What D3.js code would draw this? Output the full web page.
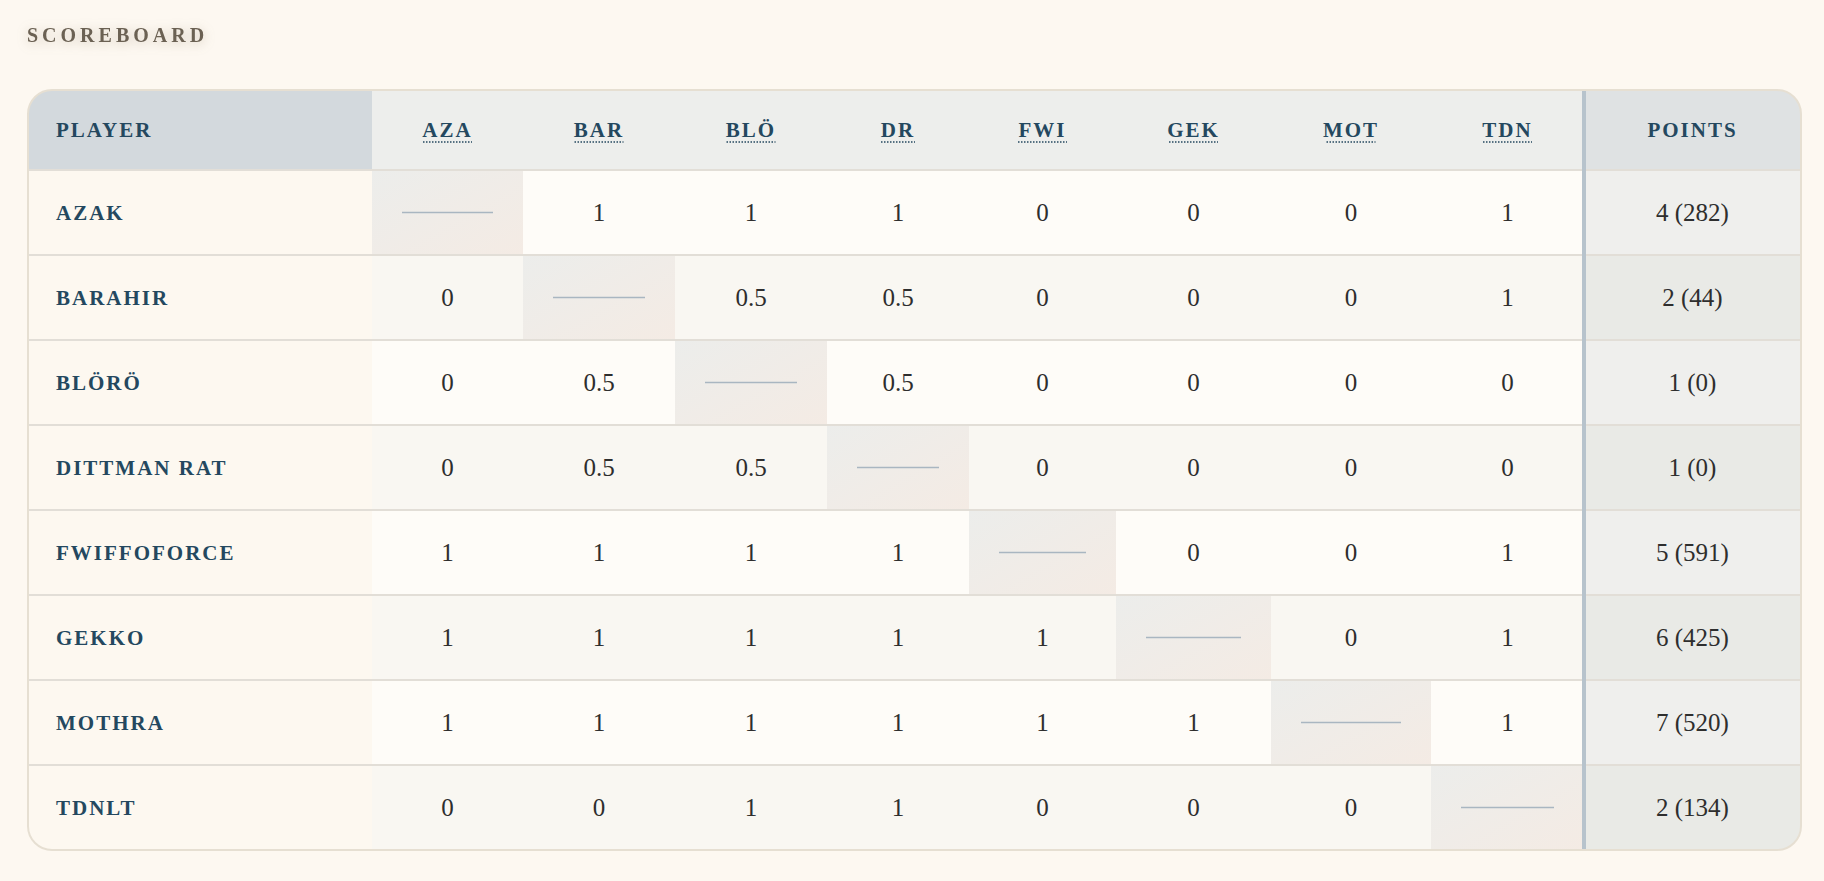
<!DOCTYPE html>
<html><head><meta charset="utf-8">
<script src="https://cdn.jsdelivr.net/npm/d3@7"></script>
<style>
body{margin:0;background:#fdf8f1;}
</style></head>
<body>
<svg id="chart" width="1824" height="881"></svg>
<script>
const players = ["AZAK","BARAHIR","BLÖRÖ","DITTMAN RAT","FWIFFOFORCE","GEKKO","MOTHRA","TDNLT"];
const codes = ["AZA","BAR","BLÖ","DR","FWI","GEK","MOT","TDN"];
// null = diagonal (player vs self)
const results = [
  [null,1,1,1,0,0,0,1],
  [0,null,0.5,0.5,0,0,0,1],
  [0,0.5,null,0.5,0,0,0,0],
  [0,0.5,0.5,null,0,0,0,0],
  [1,1,1,1,null,0,0,1],
  [1,1,1,1,1,null,0,1],
  [1,1,1,1,1,1,null,1],
  [0,0,1,1,0,0,0,null]
];
const points = ["4 (282)","2 (44)","1 (0)","1 (0)","5 (591)","6 (425)","7 (520)","2 (134)"];

const svg = d3.select("#chart");
const colEdges = [372,523,675,827,969,1116,1271,1431,1584];
const tLeft = 28, tRight = 1801, tTop = 90, headH = 80, rowH = 85;
const y = d3.scaleBand().domain(players).range([tTop+headH, tTop+headH+rowH*players.length]);

svg.append("text").attr("x",27).attr("y",42)
  .attr("font-family","Liberation Serif, serif").attr("font-weight","bold")
  .attr("font-size",20).attr("letter-spacing",4).attr("fill","#6b6153")
  .style("filter","drop-shadow(0 2px 6px rgba(120,100,70,0.35))")
  .text("SCOREBOARD");

const defs = svg.append("defs");
defs.append("clipPath").attr("id","clip").append("rect")
  .attr("x",tLeft).attr("y",tTop).attr("width",tRight-tLeft).attr("height",headH+rowH*8)
  .attr("rx",24);
const g1 = defs.append("linearGradient").attr("id","diag").attr("x1",0).attr("y1",0).attr("x2",1).attr("y2",1);
g1.append("stop").attr("offset",0).attr("stop-color","#ecedeb");
g1.append("stop").attr("offset",1).attr("stop-color","#f4ebe4");

const g = svg.append("g").attr("clip-path","url(#clip)");

// header
g.append("rect").attr("x",tLeft).attr("y",tTop).attr("width",colEdges[0]-tLeft).attr("height",headH).attr("fill","#d3d9dd");
g.append("rect").attr("x",colEdges[0]).attr("y",tTop).attr("width",colEdges[8]-colEdges[0]).attr("height",headH).attr("fill","#edeeec");
g.append("rect").attr("x",colEdges[8]).attr("y",tTop).attr("width",tRight-colEdges[8]).attr("height",headH).attr("fill","#dfe2e3");

const hfont = s => s.attr("font-family","Liberation Serif, serif").attr("font-weight","bold")
  .attr("font-size",21).attr("letter-spacing",2).attr("fill","#24485f").attr("dominant-baseline","central");
hfont(g.append("text").attr("x",56).attr("y",tTop+headH/2).text("PLAYER"));
codes.forEach((c,i)=>{
  const cx=(colEdges[i]+colEdges[i+1])/2;
  hfont(g.append("text").attr("x",cx).attr("y",tTop+headH/2).attr("text-anchor","middle").text(c));
  const w = c.length*15+4;
  g.append("line").attr("x1",cx-w/2).attr("x2",cx+w/2).attr("y1",tTop+headH/2+12).attr("y2",tTop+headH/2+12)
    .attr("stroke","#24485f").attr("stroke-width",1.5).attr("stroke-dasharray","1.5,1.5");
});
hfont(g.append("text").attr("x",(colEdges[8]+tRight)/2).attr("y",tTop+headH/2).attr("text-anchor","middle").text("POINTS"));

// rows
players.forEach((p,r)=>{
  const ry=y(p);
  g.append("rect").attr("x",tLeft).attr("y",ry).attr("width",colEdges[0]-tLeft).attr("height",rowH).attr("fill","#fdf8f0");
  g.append("rect").attr("x",colEdges[0]).attr("y",ry).attr("width",colEdges[8]-colEdges[0]).attr("height",rowH)
    .attr("fill", r%2===0 ? "#fefcf8" : "#f9f7f2");
  g.append("rect").attr("x",colEdges[8]).attr("y",ry).attr("width",tRight-colEdges[8]).attr("height",rowH)
    .attr("fill", r%2===0 ? "#efefed" : "#e9eae6");
  hfont(g.append("text").attr("x",56).attr("y",ry+rowH/2).text(p));
  results[r].forEach((v,c)=>{
    const x0=colEdges[c], x1=colEdges[c+1], cx=(x0+x1)/2;
    if(v===null){
      g.append("rect").attr("x",x0).attr("y",ry).attr("width",x1-x0).attr("height",rowH).attr("fill","url(#diag)");
      g.append("line").attr("x1",x0+30).attr("x2",x1-30).attr("y1",ry+rowH/2).attr("y2",ry+rowH/2)
        .attr("stroke","#a9b6c1").attr("stroke-width",1.5);
    } else {
      g.append("text").attr("x",cx).attr("y",ry+rowH/2).attr("text-anchor","middle").attr("dominant-baseline","central")
        .attr("font-family","Liberation Serif, serif").attr("font-size",25).attr("fill","#2e2e2e").text(v);
    }
  });
  g.append("text").attr("x",(colEdges[8]+tRight)/2).attr("y",ry+rowH/2).attr("text-anchor","middle").attr("dominant-baseline","central")
    .attr("font-family","Liberation Serif, serif").attr("font-size",25).attr("fill","#2e2e2e").text(points[r]);
  g.append("line").attr("x1",tLeft).attr("x2",tRight).attr("y1",ry).attr("y2",ry).attr("stroke","#e2ded7").attr("stroke-width",2);
});

g.append("line").attr("x1",colEdges[8]).attr("x2",colEdges[8]).attr("y1",tTop).attr("y2",tTop+headH+rowH*8)
  .attr("stroke","#b7c3cc").attr("stroke-width",4);
svg.append("rect").attr("x",tLeft).attr("y",tTop).attr("width",tRight-tLeft).attr("height",headH+rowH*8)
  .attr("rx",24).attr("fill","none").attr("stroke","#e6dfd2").attr("stroke-width",2);
</script>
</body></html>
